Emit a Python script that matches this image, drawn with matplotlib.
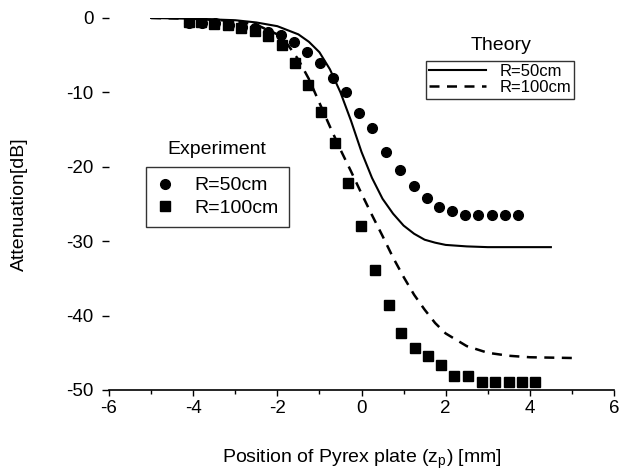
import matplotlib
matplotlib.use("Agg")
import matplotlib.pyplot as plt
from matplotlib.ticker import MultipleLocator

plt.rcParams["font.family"] = ["Liberation Sans", "DejaVu Sans"]
plt.rcParams["axes.unicode_minus"] = False

# Experiment, R=50cm (circles)
exp50_x = [-4.09, -3.78, -3.47, -3.16, -2.85, -2.54, -2.23, -1.92, -1.61, -1.30,
           -0.99, -0.68, -0.37, -0.06, 0.25, 0.58, 0.91, 1.24, 1.55, 1.85,
           2.16, 2.46, 2.77, 3.10, 3.41, 3.72]
exp50_y = [-0.7, -0.7, -0.7, -0.9, -1.2, -1.4, -1.9, -2.3, -3.2, -4.6,
           -6.0, -8.1, -10.0, -12.8, -14.8, -18.0, -20.4, -22.6, -24.2, -25.4,
           -25.9, -26.5, -26.5, -26.5, -26.5, -26.5]

# Experiment, R=100cm (squares)
exp100_x = [-4.10, -3.82, -3.50, -3.18, -2.86, -2.54, -2.22, -1.90, -1.57, -1.26,
            -0.96, -0.63, -0.32, -0.01, 0.32, 0.65, 0.93, 1.26, 1.59, 1.90,
            2.20, 2.53, 2.87, 3.17, 3.50, 3.81, 4.12]
exp100_y = [-0.5, -0.6, -0.8, -1.0, -1.4, -1.8, -2.4, -3.6, -6.0, -9.0,
            -12.6, -16.8, -22.2, -28.0, -33.9, -38.6, -42.3, -44.4, -45.4, -46.6,
            -48.1, -48.1, -48.9, -48.9, -48.9, -48.9, -48.9]

# Theory, R=50cm (solid)
th50_x = [-5.0, -4.0, -3.0, -2.5, -2.0, -1.5, -1.25, -1.0, -0.75, -0.5,
          -0.25, 0.0, 0.25, 0.5, 0.75, 1.0, 1.25, 1.5, 1.75, 2.0,
          2.5, 3.0, 4.5]
th50_y = [0.0, -0.1, -0.3, -0.6, -1.1, -2.2, -3.2, -4.6, -6.9, -10.0,
          -13.8, -18.0, -21.5, -24.3, -26.3, -27.9, -29.0, -29.8, -30.2, -30.5,
          -30.7, -30.8, -30.8]

# Theory, R=100cm (dashed)
th100_x = [-5.0, -4.0, -3.0, -2.5, -2.0, -1.75, -1.5, -1.25, -1.0, -0.75,
           -0.5, -0.25, 0.0, 0.25, 0.5, 0.75, 1.0, 1.25, 1.5, 1.75,
           2.0, 2.5, 3.0, 3.5, 4.0, 5.0]
th100_y = [0.0, -0.1, -0.4, -0.9, -2.2, -3.6, -5.6, -8.2, -11.4, -14.6,
           -17.7, -20.6, -23.6, -26.5, -29.3, -32.2, -34.8, -37.2, -39.2, -41.0,
           -42.4, -44.1, -45.0, -45.4, -45.6, -45.7]

fig = plt.figure(figsize=(6.21, 4.71), dpi=100)
ax = fig.add_axes([109 / 621, 0.172, 505 / 621, 0.7898])

l1, = ax.plot(th50_x, th50_y, color="black", linewidth=1.5, linestyle="-")
l2, = ax.plot(th100_x, th100_y, color="black", linewidth=1.8, linestyle=(0, (4, 3)))
p1, = ax.plot(exp50_x, exp50_y, "o", color="black", markersize=7, linestyle="none")
p2, = ax.plot(exp100_x, exp100_y, "s", color="black", markersize=6.5, linestyle="none")

ax.set_xlim(-6, 6)
ax.set_ylim(-50, 0)
ax.xaxis.set_major_locator(MultipleLocator(2))
ax.xaxis.set_minor_locator(MultipleLocator(1))
ax.yaxis.set_major_locator(MultipleLocator(10))
ax.tick_params(axis="both", which="major", labelsize=13.5, direction="out", length=4, width=1)
ax.tick_params(axis="y", which="major", length=5, pad=6)
ax.tick_params(axis="x", which="minor", direction="out", length=3, width=1)
for s in ["top", "right", "left"]:
    ax.spines[s].set_visible(False)
ax.spines["bottom"].set_linewidth(1.2)

ax.set_xlabel("Position of Pyrex plate (z$_\\mathregular{p}$) [mm]", fontsize=14)
ax.xaxis.set_label_coords(0.5, -0.155)
ax.set_ylabel("Attenuation[dB]", fontsize=14)
ax.yaxis.set_label_coords(-0.16, 0.5)

fig.text(217 / 621, 1 - 150 / 471, "Experiment", fontsize=14, ha="center", va="center")
fig.text(501 / 621, 1 - 45 / 471, "Theory", fontsize=14, ha="center", va="center")

leg1 = ax.legend([p1, p2], ["R=50cm", "R=100cm"], loc="upper left",
                 bbox_to_anchor=(146 / 621, 1 - 167 / 471), bbox_transform=fig.transFigure,
                 fontsize=14, frameon=True, fancybox=False, edgecolor="black",
                 handlelength=1.0, handletextpad=1.0, borderpad=0.5, labelspacing=0.25,
                 borderaxespad=0)
leg1.get_frame().set_linewidth(1.0)
ax.add_artist(leg1)

leg2 = ax.legend([l1, l2], ["R=50cm", "R=100cm"], loc="upper left",
                 bbox_to_anchor=(426 / 621, 1 - 61 / 471), bbox_transform=fig.transFigure,
                 fontsize=12, frameon=True, fancybox=False, edgecolor="black",
                 handlelength=3.4, handletextpad=0.8, borderpad=0.2, labelspacing=0.05,
                 borderaxespad=0)
leg2.get_frame().set_linewidth(1.0)

fig.savefig("out.png", dpi=100)
